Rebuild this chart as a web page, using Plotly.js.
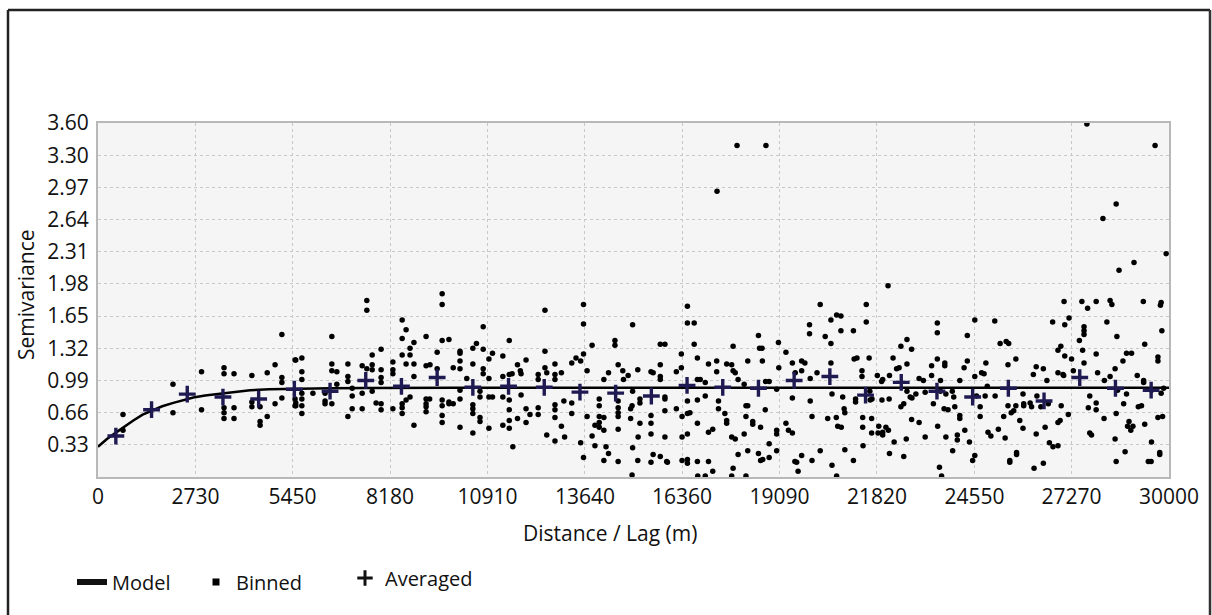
<!DOCTYPE html>
<html>
<head>
<meta charset="utf-8">
<script src="https://cdn.plot.ly/plotly-3.0.1.min.js"></script>
<style>
  html, body { margin: 0; padding: 0; background: #ffffff; }
  #chart { width: 1212px; height: 615px; }
</style>
</head>
<body>
<div id="chart"></div>
<script>
// ---- Data ----
const xTickVals = [0, 2730, 5450, 8180, 10910, 13640, 16360, 19090, 21820, 24550, 27270, 30000];
const xTickText = ["0", "2730", "5450", "8180", "10910", "13640", "16360", "19090", "21820", "24550", "27270", "30000"];
const yTickVals = [0.33, 0.66, 0.99, 1.32, 1.65, 1.98, 2.31, 2.64, 2.97, 3.30, 3.63];
const yTickText = ["0.33", "0.66", "0.99", "1.32", "1.65", "1.98", "2.31", "2.64", "2.97", "3.30", "3.60"];

const modelLag = [0, 250, 520, 750, 990, 1250, 1550, 1800, 2110, 2400, 2670, 3000, 3320, 3800, 4260, 4800, 5470, 6500, 7500, 10000, 30000];
const modelSemivariance = [0.31, 0.39, 0.46, 0.52, 0.58, 0.64, 0.69, 0.725, 0.76, 0.79, 0.815, 0.835, 0.85, 0.872, 0.89, 0.90, 0.905, 0.91, 0.912, 0.915, 0.915];

const averagedLag = [500, 1500, 2500, 3500, 4500, 5500, 6500, 7500, 8500, 9500, 10500, 11500, 12500, 13500, 14500,
  15500, 16500, 17500, 18500, 19500, 20500, 21500, 22500, 23500, 24500, 25500, 26500, 27500, 28500, 29500];
const averagedSemivariance = [0.42, 0.69, 0.85, 0.82, 0.80, 0.90, 0.88, 0.99, 0.93, 1.02, 0.92, 0.93, 0.92, 0.87, 0.86,
  0.83, 0.94, 0.92, 0.91, 0.99, 1.03, 0.84, 0.97, 0.88, 0.82, 0.91, 0.78, 1.02, 0.91, 0.89];

// Binned points as [lag, semivariance]
const binnedPoints = [
[700,0.64],[700,0.48],[2100,0.95],[2100,0.66],[2900,1.08],[2900,0.69],[3530,1.12],[3530,1.06],[3810,1.06],[3530,0.71],[3530,0.66],[3530,0.60],[3810,0.71],[3810,0.60],[4310,1.04],[4310,0.77],[4310,0.72],[4540,0.72],[4540,0.57],[4540,0.53],[4740,1.07],[4740,0.62],[4960,1.15],[4960,0.75],[5150,1.46],[5150,1.02],[5150,0.97],[5150,0.81],[5540,1.20],[5540,0.76],[5540,0.73],
[5520,1.20],[5710,1.22],[5710,1.08],[5710,1.00],[5710,0.86],[5710,0.80],[5710,0.73],[5710,0.65],[5520,0.80],[5520,0.73],[6020,0.86],[6360,0.86],[6360,0.78],[6360,0.75],[6550,1.44],[6550,1.16],[6550,1.09],[6690,1.08],[6550,0.75],[6690,0.95],[7000,1.16],[7000,1.03],[7000,0.98],[7000,0.62],[7120,0.91],[7120,0.83],[7120,0.70],[7400,1.14],[7400,0.86],[7400,0.70],[7530,1.81],[7530,1.71],[7530,1.11],[7680,1.25],[7680,1.15],[7680,1.10],[7680,0.88],[7790,0.76],[7930,1.31],[7930,1.10],[7930,1.02],[7930,0.97],[7930,0.75],[7930,0.69],[8260,1.18],[8260,1.10],[8260,1.06],[8260,0.70],[8520,1.61],[8520,1.42],[8520,1.25],[8520,0.75],[8520,0.71],[8520,0.65],[8630,1.51],[8630,1.16],[8630,0.79],[8740,1.32],[8740,1.25],[8740,0.82],[8850,1.38],[8850,1.16],[8850,1.03],[8850,0.53],[9190,1.44],[9190,1.14],[9300,1.15],[9190,0.80],[9290,0.80],[9190,0.75],[9190,0.72],[9190,0.67],[9500,1.28],[9500,1.11],[9640,1.88],[9640,1.77],[9640,1.40],[9640,0.79],[9640,0.73],[9640,0.63],[9640,0.56],[9830,1.41],[9830,0.77],[9830,0.75],[9950,1.12],[9950,0.75],[10140,1.29],[10140,1.27],[10140,1.19],[10140,1.11],[10140,0.89],[10140,0.80],[10140,0.51],[10330,1.01],[10500,1.32],[10500,1.16],[10500,0.74],[10500,0.70],[10500,0.65],[10500,0.45],[10600,1.37],[10700,0.88],[10700,0.82],[10700,0.61],[10700,0.57],[10790,1.54],[10790,1.31],[10790,1.11],[10790,1.06],[10950,1.21],[11050,1.27],[10950,1.01],[10950,0.82],[11050,0.82],[10950,0.50],[11340,1.24],[11340,1.03],[11340,0.82],[11340,0.53],[11520,1.40],[11520,1.05],[11600,1.06],[11520,0.79],[11520,0.69],[11520,0.58],[11520,0.50],[11620,0.31],[11750,1.15],[11830,1.09],[11850,1.06],[11850,0.84],[11750,0.60],[11990,1.20],[11990,0.70],[11990,0.56],[12100,0.64],[12330,1.05],[12330,1.00],[12330,0.71],[12330,0.64],[12520,1.71],[12520,1.29],[12520,1.12],[12570,1.07],[12570,0.43],[12800,1.16],[12800,1.05],[12800,1.00],[12800,0.74],[12800,0.69],[12800,0.61],[12800,0.37],[12980,1.07],[12980,0.52],[13050,0.78],[13070,0.41],[13270,1.17],[13270,0.76],[13270,0.65],[13390,1.22],[13520,1.19],[13520,0.35],[13600,1.77],[13600,1.57],[13600,1.26],[13600,0.20],[13700,1.09],[13700,0.62],[13840,1.35],[13840,0.42],
[13920,0.53],[13920,0.32],[14040,0.80],[14040,0.73],[14040,0.62],[14040,0.56],[14040,0.51],[14170,1.00],[14170,0.61],[14170,0.48],[14170,0.17],[14300,1.07],[14300,0.24],[14230,0.31],[14480,1.40],[14480,1.35],[14570,1.15],[14570,0.78],[14570,0.71],[14570,0.66],[14570,0.62],[14570,0.49],[14570,0.16],[14700,1.09],[14720,1.00],[14850,1.04],[14920,0.70],[14960,0.73],[14920,0.60],[14960,0.02],[14975,1.56],[14975,0.88],[14975,0.30],[15120,1.10],[15130,0.41],[15180,0.80],[15180,0.76],[15180,0.55],[15120,0.17],[15490,1.08],[15550,1.07],[15490,0.63],[15490,0.55],[15490,0.44],[15490,0.15],[15550,0.23],[15750,1.36],[15750,1.15],[15750,1.03],[15750,1.00],[15750,0.21],[15880,1.36],[15880,0.82],[15880,0.80],[15880,0.68],[15880,0.41],[15930,0.16],[15950,0.15],[16200,1.08],[16200,0.70],[16340,1.26],[16340,1.12],[16360,0.62],[16360,0.41],[16360,0.17],[16510,1.75],[16510,1.58],[16700,1.58],[16700,1.36],[16510,0.78],[16510,0.65],[16510,0.44],[16510,0.18],[16510,0.14],[16580,0.66],[16790,1.22],[16790,1.00],[16870,1.00],[16790,0.79],[16790,0.55],[16790,0.16],[16800,0.01],[17010,0.01],[17010,0.97],[17010,0.83],[17100,1.16],[17100,0.46],[17100,0.16],[17220,0.06],[17330,1.19],[17330,1.08],[17380,0.78],[17380,0.70],[17220,0.49],[17560,0.65],[17610,0.58],[17610,0.55],[17610,1.16],[17750,1.15],[17790,1.34],[17790,1.09],[17850,1.07],[17750,0.41],[17850,0.39],[17790,0.09],[17750,0.01],[17930,1.00],[17930,0.23],[18100,0.44],[18100,0.95],[18150,0.73],[18200,0.73],[18150,0.62],[18150,0.01],[18200,0.27],[18200,1.19],[18340,0.57],[18340,0.54],[18500,1.45],[18530,1.32],[18600,1.32],[18500,0.24],[18560,0.17],[18620,0.18],[18560,0.51],[18610,1.19],[18690,0.69],[18700,0.98],[18800,0.98],[18800,0.20],[18800,0.34],[19010,0.27],[19010,0.48],[19010,0.44],[19060,1.38],[19070,1.12],[19010,0.90],[19270,1.28],[19270,0.55],[19340,0.48],[19450,1.17],[19450,0.81],[19450,0.45],[19530,1.07],[19520,0.16],[19570,0.15],[19610,0.06],[19710,1.19],[19800,1.17],[19710,1.09],[19710,0.22],[19930,1.56],[19930,1.47],[19950,1.01],[19950,0.78],[20000,0.62],[20000,0.17],[20140,1.07],[20230,1.77],[20230,0.27],[20370,1.44],[20440,0.60],[20530,1.61],[20530,1.37],[20530,1.17],[20560,0.85],[20560,0.12],[20680,0.61],[20690,1.66],[20810,1.65],[20810,1.50],[20690,0.01],[20720,0.52],[20820,0.51],[20860,0.82],[20900,0.70],[20920,0.66],[20920,0.28],[21160,1.50],[21160,0.17],[21180,1.21],[21260,1.22],[21220,0.80],[21220,0.77],[21400,1.09],[21400,1.03],[21420,0.61],[21420,0.51],[21430,0.32],[21520,1.77],[21520,1.59],[21600,1.22],[21620,0.88],[21630,0.79],[21680,0.80],[21670,0.60],[21670,0.45],[21830,1.04],[21850,0.45],[21870,0.52],[21950,0.98],[21960,0.79],
[21980,1.00],[21980,0.46],[21980,0.43],[22070,0.51],[22140,0.48],[22160,0.80],[22170,1.04],[22170,0.24],[22270,1.22],[22300,0.36],[22370,1.11],[22440,1.12],[22490,1.34],[22490,0.72],[22570,0.75],[22570,0.21],[22660,1.41],[22640,0.39],[22660,1.16],[22660,0.88],[22800,0.81],[22790,1.31],[22790,0.59],[22750,0.82],[23000,1.01],[23000,0.56],[22910,0.85],[23120,0.99],[23170,0.87],[23170,0.41],[23350,1.14],[23350,1.04],[23400,0.75],[23510,1.58],[23510,1.48],[23510,1.21],[23520,0.52],[23570,0.10],[23600,0.99],[23600,0.88],[23630,0.01],[23700,0.70],[23720,1.17],[23720,1.14],[23750,0.85],[23750,0.41],[23810,0.69],[23930,0.88],[23970,0.82],[23940,0.27],[24000,0.72],[24070,0.43],[24070,0.38],[24140,0.99],[24140,0.63],[24140,0.60],[24260,1.12],[24280,0.48],[24350,1.19],[24350,1.45],[24410,0.36],[24500,0.17],[24560,1.61],[24560,1.03],[24560,0.22],[24610,0.83],[24710,0.72],[24710,0.62],[24750,1.07],[24820,1.06],[24870,1.17],[24850,0.83],[24930,0.46],[25010,0.42],[24910,0.93],[25120,1.60],[25130,0.83],[25220,0.49],[25270,1.37],[25440,1.39],[25510,1.37],[25410,0.40],[25370,0.62],[25490,1.15],[25490,0.73],[25540,0.17],[25540,0.15],[25580,0.66],[25650,0.68],[25710,0.73],[25710,1.21],[25730,0.25],[25730,0.23],[25820,0.58],[25910,0.85],[25910,0.50],[25930,0.75],[25930,0.73],[26110,0.76],[26150,0.72],[26200,1.05],[26220,0.09],[26280,1.13],[26280,0.44],[26300,0.83],[26410,0.72],[26480,1.11],[26480,0.14],[26530,0.51],[26580,0.99],[26620,0.75],[26650,0.35],[26740,1.59],[26750,0.31],[26890,0.32],[26890,0.56],[26950,0.58],[26890,1.30],[26970,1.34],[26890,1.07],[27030,1.05],[27050,1.04],[26980,0.73],[27080,1.56],[27060,1.80],[27080,1.24],[27200,1.63],[27180,0.64],[27270,1.21],[27320,1.09],[27490,1.40],[27560,1.80],[27620,1.54],[27620,1.50],[27620,1.46],[27580,1.30],[27620,1.17],[27720,1.73],[27740,0.71],[27780,0.83],[27780,0.45],[27830,0.43],[27960,1.80],[27960,1.26],[27960,0.76],[27960,0.69],[28000,1.07],[28180,0.60],[28190,0.99],[28260,1.59],[28350,1.81],[28400,1.77],[28350,1.03],[28490,1.11],[28490,0.39],[28520,0.65],[28520,0.16],[28540,1.44],[28560,0.89],[28710,1.19],[28730,0.75],[28770,0.26],[28810,1.27],[28950,1.27],[28810,0.85],[28840,0.52],[28880,0.57],[28930,0.48],[28990,0.52],[29110,1.04],[29140,0.72],[29280,1.80],[29230,0.73],[29290,0.99],[29290,0.97],[29320,1.36],[29320,0.54],[29420,0.16],[29500,0.16],[29510,0.36],[29510,0.89],[29690,1.19],[29690,1.23],[29690,0.61],[29740,0.25],[29740,0.23],[29760,1.76],[29780,1.79],[29800,1.50],[29780,0.86],[29820,0.62],[29850,0.91],
[17900,3.40],[18710,3.40],[17340,2.93],[22130,1.96],[27700,3.62],[29610,3.40],[28520,2.80],[28150,2.65],[29920,2.29],[29020,2.20],[28600,2.12]
];

const legendLabels = ["Model", "Binned", "Averaged"];
const xAxisTitle = "Distance / Lag (m)";
const yAxisTitle = "Semivariance";

// ---- Plot ----
const FONT = '"Open Sans", "Noto Sans", sans-serif';
const binnedLag = binnedPoints.map(p => p[0]);
const binnedSemivariance = binnedPoints.map(p => p[1]);

const L = 98, R = 1169, T = 123, B = 477;
const px2x = px => (px - L) / (R - L);
const py2y = py => (B - py) / (B - T);

const traces = [
  { type: 'scatter', mode: 'markers', x: binnedLag, y: binnedSemivariance,
    marker: { symbol: 'circle', size: 5.5, color: '#000000' }, showlegend: false },
  { type: 'scatter', mode: 'lines', x: modelLag, y: modelSemivariance,
    line: { color: '#000000', width: 2.5, shape: 'linear' }, showlegend: false },
  { type: 'scatter', mode: 'markers', x: averagedLag, y: averagedSemivariance,
    marker: { symbol: 'cross-thin', size: 12, line: { width: 3.4, color: '#1f1b52' } }, showlegend: false },
  // legend entries
  { type: 'scatter', mode: 'lines', x: [null], y: [null], name: legendLabels[0],
    line: { color: '#111111', width: 6 }, legend: 'legend' },
  { type: 'scatter', mode: 'markers', x: [null], y: [null], name: legendLabels[1],
    marker: { symbol: 'square', size: 7, color: '#000000' }, legend: 'legend2' },
  { type: 'scatter', mode: 'markers', x: [null], y: [null], name: legendLabels[2],
    marker: { symbol: 'cross-thin', size: 11, line: { width: 3, color: '#111111' } }, legend: 'legend3' }
];

const legendBase = {
  orientation: 'h', xanchor: 'left', yanchor: 'middle',
  font: { family: FONT, size: 20, color: '#111111' }, bgcolor: 'rgba(0,0,0,0)'
};

const layout = {
  width: 1212, height: 615,
  margin: { l: L, r: 1212 - R, t: T, b: 615 - B, pad: 0 },
  paper_bgcolor: '#ffffff',
  plot_bgcolor: '#f5f5f5',
  font: { family: FONT, size: 20, color: '#111111' },
  showlegend: true,
  legend: Object.assign({}, legendBase, { x: px2x(72), y: py2y(582) }),
  legend2: Object.assign({}, legendBase, { x: px2x(196), y: py2y(582) }),
  legend3: Object.assign({}, legendBase, { x: px2x(345), y: py2y(578) }),
  xaxis: {
    range: [0, 30000], tickmode: 'array', tickvals: xTickVals, ticktext: xTickText,
    showgrid: true, gridcolor: '#c8c8c8', griddash: 'dot', gridwidth: 1,
    showline: true, mirror: true, linecolor: '#b8b8b8', linewidth: 2,
    ticks: '', zeroline: false,
    tickfont: { family: FONT, size: 21, color: '#111111' },
    title: { text: '' }
  },
  yaxis: {
    range: [0, 3.63], tickmode: 'array', tickvals: yTickVals, ticktext: yTickText,
    showgrid: true, gridcolor: '#c8c8c8', griddash: 'dot', gridwidth: 1,
    showline: true, mirror: true, linecolor: '#b8b8b8', linewidth: 2,
    ticks: 'outside', ticklen: 3, tickcolor: 'rgba(0,0,0,0)', zeroline: false,
    tickfont: { family: FONT, size: 21, color: '#111111' },
    title: { text: '' }
  },
  annotations: [
    { text: xAxisTitle, xref: 'paper', yref: 'paper', x: px2x(610), y: py2y(533),
      xanchor: 'center', yanchor: 'middle', showarrow: false,
      font: { family: FONT, size: 21, color: '#111111' } },
    { text: yAxisTitle, xref: 'paper', yref: 'paper', x: px2x(26), y: py2y(295), textangle: -90,
      xanchor: 'center', yanchor: 'middle', showarrow: false,
      font: { family: FONT, size: 21, color: '#111111' } }
  ],
  shapes: [
    { type: 'line', xref: 'paper', yref: 'paper', x0: px2x(8), x1: px2x(8), y0: py2y(10), y1: py2y(640),
      line: { color: '#222222', width: 2.5 } },
    { type: 'line', xref: 'paper', yref: 'paper', x0: px2x(8), x1: px2x(1210), y0: py2y(10), y1: py2y(10),
      line: { color: '#222222', width: 2.5 } },
    { type: 'line', xref: 'paper', yref: 'paper', x0: px2x(1210), x1: px2x(1210), y0: py2y(10), y1: py2y(640),
      line: { color: '#333333', width: 2.5 } }
  ]
};

Plotly.newPlot('chart', traces, layout, { staticPlot: true, displayModeBar: false });
</script>
</body>
</html>
